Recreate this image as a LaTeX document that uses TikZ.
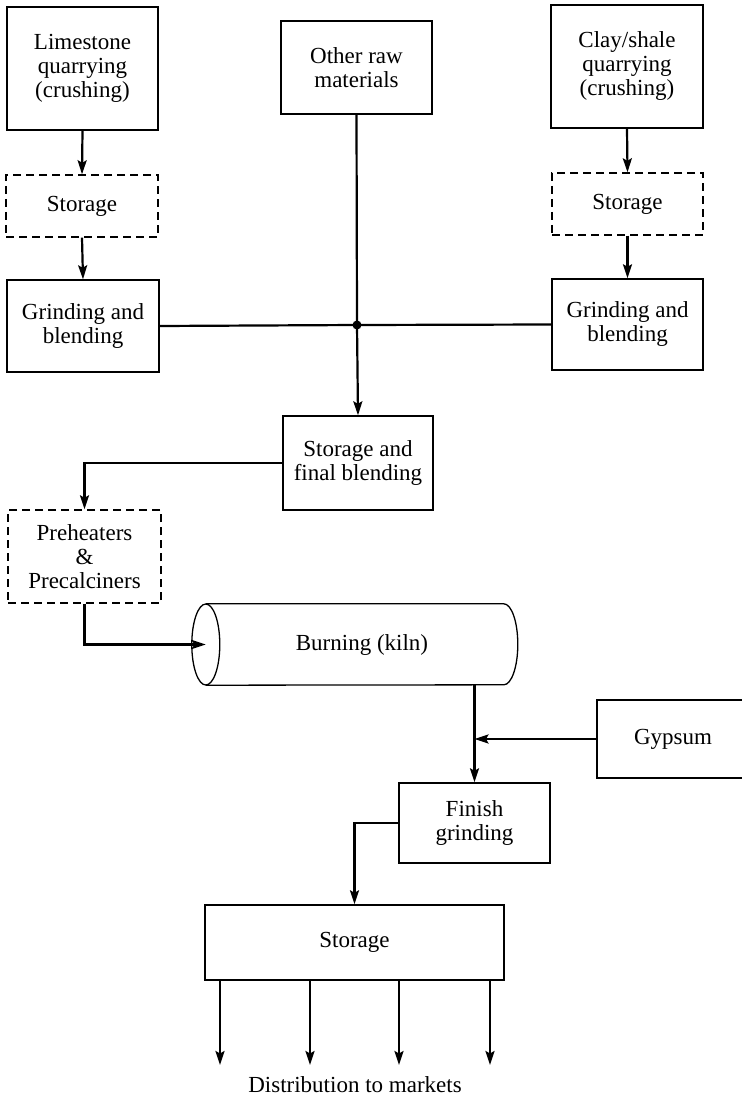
\documentclass[tikz,border=0pt]{standalone}
\usepackage{fontspec}
\setmainfont{Liberation Serif}
\usetikzlibrary{arrows.meta,calc}
\begin{document}
\begin{tikzpicture}[x=1pt,y=1pt,
  every node/.style={font=\fontsize{23}{24}\selectfont, align=center},
  box/.style={draw, line width=1.4pt, rectangle, inner sep=0pt},
  dbox/.style={box, dash pattern=on 8pt off 5pt},
  conn/.style={line width=2.2pt},
  arr/.style={conn, -{Stealth[length=14pt,width=9pt,inset=2.5pt]}}]
\useasboundingbox (0,0) rectangle (741,-1099);
% boxes
\node[box, minimum width=151, minimum height=123] (lime) at (82.5,-68.5) {Limestone\\quarrying\\(crushing)};
\node[box, minimum width=151, minimum height=93] (other) at (356.5,-67.5) {Other raw\\materials};
\node[box, minimum width=152, minimum height=123] (clay) at (627,-66.5) {Clay/shale\\quarrying\\(crushing)};
\node[dbox, minimum width=152, minimum height=62] (stL) at (82,-206) {Storage};
\node[dbox, minimum width=151, minimum height=62] (stR) at (627.5,-204) {Storage};
\node[box, minimum width=152, minimum height=92] (grL) at (83,-326) {Grinding and\\blending};
\node[box, minimum width=151, minimum height=91] (grR) at (627.5,-324.5) {Grinding and\\blending};
\coordinate (junc) at (357,-325);
\node[box, minimum width=150, minimum height=94] (sfb) at (358,-463) {Storage and\\final blending};
\node[dbox, minimum width=153, minimum height=93] (pre) at (84.5,-556.5) {Preheaters\\\&\\Precalciners};
% kiln
\node[minimum width=312, minimum height=81, inner sep=0pt] (kiln) at (362,-644.5) {Burning (kiln)};
\draw[line width=1.3pt] (kiln.north west) -- ++(298,0)
  arc[start angle=90, end angle=-90, x radius=14pt, y radius=40.5pt] -- (kiln.south west);
\draw[line width=1.3pt] (kiln.west) ellipse [x radius=14pt, y radius=40.5pt];
\node[box, minimum width=152, minimum height=78] (gyp) at (673,-739) {Gypsum};
\node[box, minimum width=151, minimum height=80] (fin) at (474.5,-823) {Finish\\grinding};
\node[box, minimum width=299, minimum height=75] (stor) at (354.5,-942.5) {Storage};
\node (dist) at (355,-1085) {Distribution to markets};
% connectors
\draw[arr] (lime.south) -- (stL.north);
\draw[arr] (stL.south) -- (grL.north);
\draw[arr] (clay.south) -- (stR.north);
\draw[arr] (stR.south) -- (grR.north);
\draw[conn] (other.south) -- (junc);
\draw[conn] (grL.east) -- (junc);
\draw[conn] (grR.west) -- (junc);
\fill (junc) circle[radius=4.5pt];
\draw[arr] (junc) -- (sfb.north);
\draw[arr] (sfb.west) -| (pre.north);
\draw[arr] (pre.south) |- (kiln.west);
\draw[arr] (fin.north |- kiln.south) -- (fin.north);
\draw[arr] (gyp.west) -- (fin.north |- gyp.west);
\draw[arr] (fin.west) -| (stor.north);
\foreach \i/\x in {1/220,2/310,3/399,4/490}{
  \coordinate (d\i) at (\x,-1065);
  \draw[arr] (d\i |- stor.south) -- (d\i);
}
\end{tikzpicture}
\end{document}
